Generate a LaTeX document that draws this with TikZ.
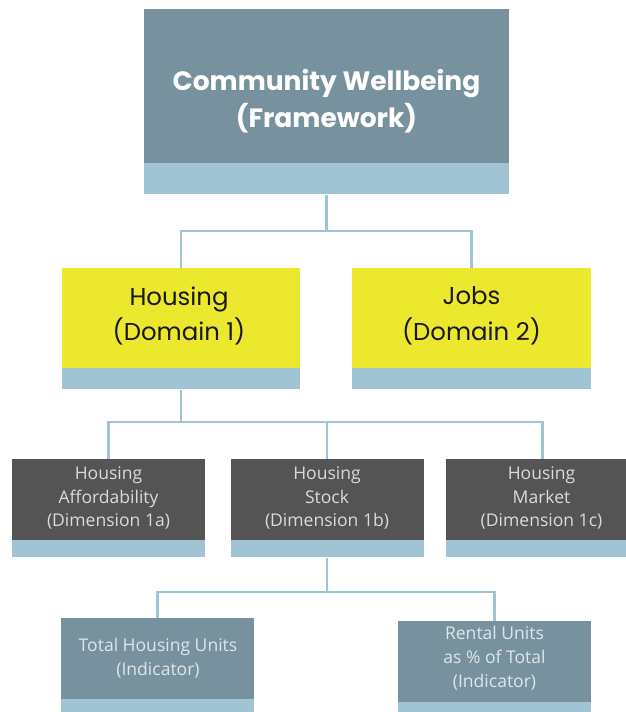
\documentclass[tikz,border=0pt]{standalone}
\usepackage{fontspec}
\setmainfont{Open Sans}
\newfontfamily\headfont{Poppins}
\definecolor{slate}{RGB}{119,146,158}
\definecolor{strip}{RGB}{160,196,212}
\definecolor{lemon}{RGB}{235,232,45}
\definecolor{charcoal}{RGB}{84,84,84}
\definecolor{paletext}{RGB}{218,218,218}
\definecolor{misttext}{RGB}{222,230,234}
\begin{document}
\begin{tikzpicture}[x=1bp,y=-1bp,
  panel/.style={rectangle, inner sep=0pt, draw=none},
  band/.style={rectangle, inner sep=0pt, draw=none, fill=strip, anchor=north},
  conn/.style={draw=strip, line width=2.6bp},
  toptext/.style={align=center, inner sep=0pt, text=white,
    font={\headfont\bfseries\fontsize{26.6}{37}\selectfont}},
  domtext/.style={align=center, inner sep=0pt, text=black!90,
    font={\headfont\fontsize{24.5}{36}\selectfont}},
  dimtext/.style={align=center, inner sep=0pt, text=paletext,
    font={\fontsize{17.6}{24}\selectfont}},
  indtext/.style={align=center, inner sep=0pt, text=misttext,
    font={\fontsize{17.6}{24}\selectfont}}]
\clip (0,0) rectangle (626,712);
\fill[white] (0,0) rectangle (626,712);

% framework
\node[panel, fill=slate, minimum width=365bp, minimum height=154bp] (fw) at (326.5,86) {};
\node[band, minimum width=365bp, minimum height=31bp] (fws) at (fw.south) {};
\node[toptext] (fwt) at (326.5,101) {Community Wellbeing\\(Framework)};

% domains
\node[panel, fill=lemon, minimum width=238bp, minimum height=100bp] (hou) at (181,318) {};
\node[band, minimum width=238bp, minimum height=21bp] (hous) at (hou.south) {};
\node[domtext] (hout) at (179,316) {Housing\\(Domain 1)};

\node[panel, fill=lemon, minimum width=239bp, minimum height=100bp] (job) at (471.5,318) {};
\node[band, minimum width=239bp, minimum height=21bp] (jobs) at (job.south) {};
\node[domtext] (jobt) at (471.5,316) {Jobs\\(Domain 2)};

% dimensions
\node[panel, fill=charcoal, minimum width=193bp, minimum height=81bp] (d1) at (108.5,499.5) {};
\node[band, minimum width=193bp, minimum height=17bp] (d1s) at (d1.south) {};
\node[dimtext] (d1t) at (108.5,498) {Housing\\Affordability\\(Dimension 1a)};

\node[panel, fill=charcoal, minimum width=193bp, minimum height=81bp] (d2) at (327,499.5) {};
\node[band, minimum width=193bp, minimum height=17bp] (d2s) at (d2.south) {};
\node[dimtext] (d2t) at (327,498) {Housing\\Stock\\(Dimension 1b)};

\node[panel, fill=charcoal, minimum width=193bp, minimum height=81bp] (d3) at (542.5,499.5) {};
\node[band, minimum width=193bp, minimum height=17bp] (d3s) at (d3.south) {};
\node[dimtext] (d3t) at (541.5,498) {Housing\\Market\\(Dimension 1c)};

% indicators
\node[panel, fill=slate, minimum width=193bp, minimum height=81bp] (i1) at (157.5,658.5) {};
\node[band, minimum width=193bp, minimum height=22bp] (i1s) at (i1.south) {};
\node[indtext] (i1t) at (158,658) {Total Housing Units\\(Indicator)};

\node[panel, fill=slate, minimum width=193bp, minimum height=81bp] (i2) at (494.5,661.5) {};
\node[band, minimum width=193bp, minimum height=22bp] (i2s) at (i2.south) {};
\node[indtext] (i2t) at (494.5,658) {Rental Units\\as \% of Total\\(Indicator)};

% connectors
\coordinate (j1) at (326.5,231);
\coordinate (j2) at (181,422);
\coordinate (j3) at (327,592);
\draw[conn] (fws.south) -- (j1);
\draw[conn] (hou.north) |- (j1) -| (job.north);
\draw[conn] (hous.south) -- (j2);
\draw[conn] (d1.north) |- (j2) -| (d3.north);
\draw[conn] (j2) -| (d2.north);
\draw[conn] (d2s.south) -- (j3);
\draw[conn] (i1.north) |- (j3) -| (i2.north);
\end{tikzpicture}
\end{document}
